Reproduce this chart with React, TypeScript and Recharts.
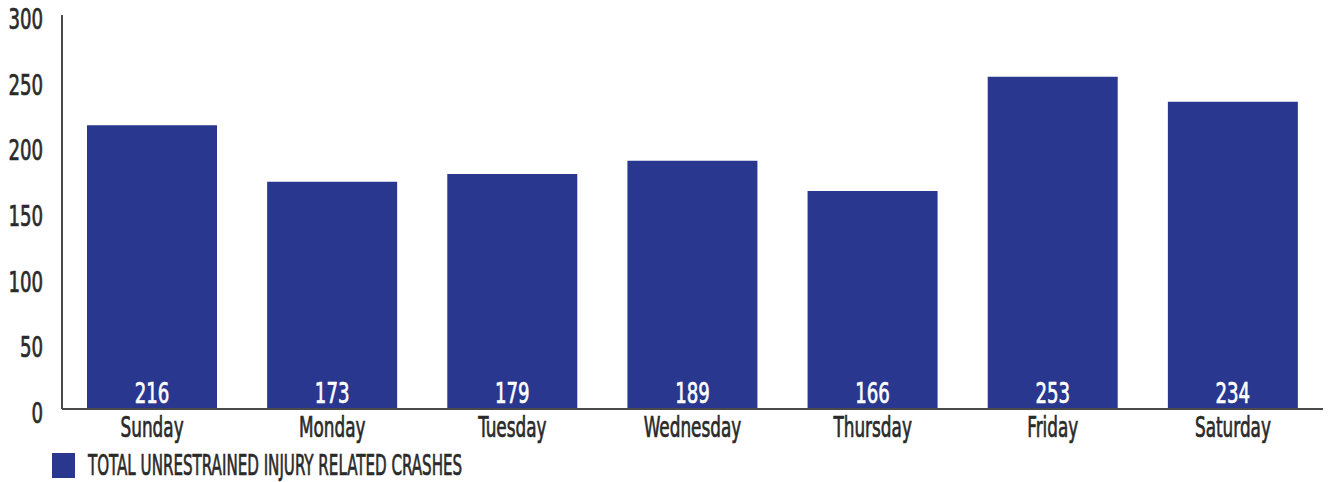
import React from 'react';
import { BarChart, Bar, XAxis, YAxis, Legend, LabelList } from 'recharts';

// Colores y tipografía
const BAR_COLOR = '#29378f';
const TEXT_COLOR = '#2a2a2a';
const AXIS_COLOR = '#4a4a4a';
const FONT = '"Liberation Sans Narrow", "DejaVu Sans Condensed", sans-serif';

const days = ['Sunday', 'Monday', 'Tuesday', 'Wednesday', 'Thursday', 'Friday', 'Saturday'];
const crashes = [216, 173, 179, 189, 166, 253, 234];
const yTicks = [0, 50, 100, 150, 200, 250, 300];
const seriesName = 'TOTAL UNRESTRAINED INJURY RELATED CRASHES';

const data = days.map((d, i) => ({ day: d, crashes: crashes[i] }));

// Texto condensado: se escala horizontalmente
const NarrowText = ({ x, y, anchor, scale, fill, children }: any) => (
  <g transform={`translate(${x},${y}) scale(${scale},1)`}>
    <text
      x={0}
      y={0}
      textAnchor={anchor}
      fill={fill}
      stroke={fill}
      strokeWidth={0.7}
      fontFamily={FONT}
      fontSize={28}
    >
      {children}
    </text>
  </g>
);

const YTick = ({ x, y, payload }: any) => (
  <NarrowText x={x} y={y + 14} anchor="end" scale={0.72} fill={TEXT_COLOR}>
    {payload.value}
  </NarrowText>
);

const XTick = ({ x, y, payload }: any) => (
  <NarrowText x={x} y={y + 28} anchor="middle" scale={0.67} fill={TEXT_COLOR}>
    {payload.value}
  </NarrowText>
);

const ValueLabel = ({ x, y, width, height, value }: any) => (
  <NarrowText x={x + width / 2} y={y + height - 6} anchor="middle" scale={0.72} fill="#ffffff">
    {value}
  </NarrowText>
);

const LegendContent = () => (
  <svg width={600} height={32} style={{ display: 'block' }}>
    <rect x={52} y={3} width={23} height={25} fill={BAR_COLOR} />
    <NarrowText x={88} y={25} anchor="start" scale={0.6} fill={TEXT_COLOR}>
      {seriesName}
    </NarrowText>
  </svg>
);

export default function App() {
  return (
    <div style={{ position: 'absolute', left: 0, top: 0, background: '#fff' }}>
      <BarChart width={1328} height={482} data={data} margin={{ top: 15, right: 5, left: 0, bottom: 0 }}>
        <XAxis
          dataKey="day"
          height={41}
          interval={0}
          tickSize={0}
          tickMargin={0}
          stroke={AXIS_COLOR}
          strokeWidth={2}
          tick={<XTick />}
        />
        <YAxis
          domain={[0, 300]}
          ticks={yTicks}
          width={62}
          tickSize={0}
          tickMargin={19}
          stroke={AXIS_COLOR}
          strokeWidth={2}
          tick={<YTick />}
        />
        <Legend
          verticalAlign="bottom"
          align="left"
          height={32}
          content={<LegendContent />}
        />
        <Bar dataKey="crashes" name={seriesName} fill={BAR_COLOR} barSize={130} isAnimationActive={false}>
          <LabelList dataKey="crashes" content={<ValueLabel />} />
        </Bar>
      </BarChart>
    </div>
  );
}
